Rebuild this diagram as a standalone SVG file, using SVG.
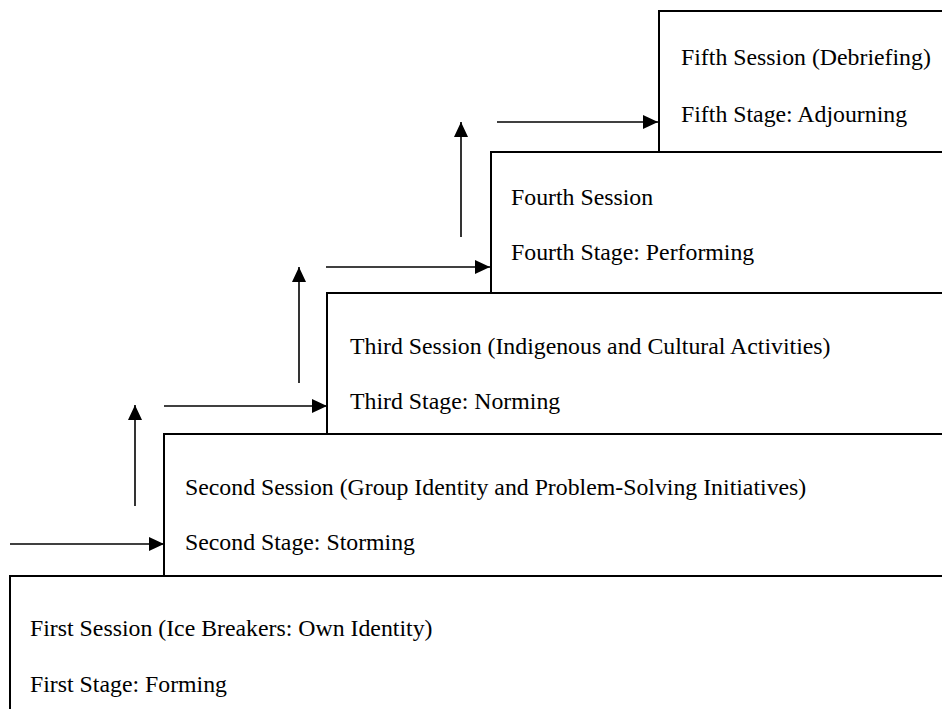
<svg xmlns="http://www.w3.org/2000/svg" width="942" height="709" viewBox="0 0 942 709">
<defs>
<marker id="ah" markerUnits="userSpaceOnUse" markerWidth="16" markerHeight="14" refX="15" refY="7" orient="auto">
<path d="M0,0 L15,7 L0,14 Z" fill="#000"/>
</marker>
<style>
.box{fill:#fff;stroke:#000;stroke-width:2}
.t{font-family:"Liberation Serif","Times New Roman",serif;font-size:23.8px;fill:#000}
.c{stroke:#000;stroke-width:1.6;fill:none;marker-end:url(#ah)}
</style>
</defs>
<rect width="942" height="709" fill="#fff"/>
<g id="connectors">
<line class="c" x1="10" y1="544" x2="164" y2="544"/>
<line class="c" x1="135" y1="506" x2="135" y2="405"/>
<line class="c" x1="164" y1="406" x2="327" y2="406"/>
<line class="c" x1="299" y1="383" x2="299" y2="267"/>
<line class="c" x1="326" y1="267" x2="490" y2="267"/>
<line class="c" x1="461" y1="237" x2="461" y2="122"/>
<line class="c" x1="497" y1="122" x2="658" y2="122"/>
</g>
<g id="node5">
<rect class="box" x="659" y="11" width="300" height="141"/>
<text class="t" x="681" y="65">Fifth Session (Debriefing)</text>
<text class="t" x="681" y="122">Fifth Stage: Adjourning</text>
</g>
<g id="node4">
<rect class="box" x="491" y="152" width="470" height="141"/>
<text class="t" x="511" y="205">Fourth Session</text>
<text class="t" x="511" y="260">Fourth Stage: Performing</text>
</g>
<g id="node3">
<rect class="box" x="327" y="293" width="630" height="141"/>
<text class="t" x="350" y="354">Third Session (Indigenous and Cultural Activities)</text>
<text class="t" x="350" y="409">Third Stage: Norming</text>
</g>
<g id="node2">
<rect class="box" x="164" y="434" width="800" height="142"/>
<text class="t" x="185" y="495">Second Session (Group Identity and Problem-Solving Initiatives)</text>
<text class="t" x="185" y="550">Second Stage: Storming</text>
</g>
<g id="node1">
<rect class="box" x="10" y="576" width="950" height="150"/>
<text class="t" x="30" y="636">First Session (Ice Breakers: Own Identity)</text>
<text class="t" x="30" y="692">First Stage: Forming</text>
</g>
</svg>
